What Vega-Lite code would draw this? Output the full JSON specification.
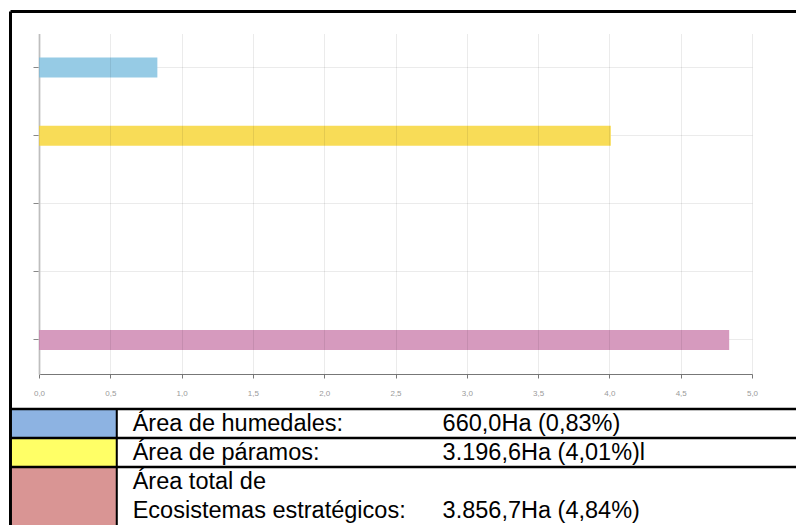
{
  "$schema": "https://vega.github.io/schema/vega-lite/v6.json",
  "width": 776,
  "height": 514,
  "autosize": {"type": "none"},
  "padding": {"left": 10, "top": 11, "right": 10, "bottom": 0},
  "background": "white",
  "config": {
    "view": {"stroke": null, "fill": null},
    "font": "Liberation Sans"
  },
  "datasets": {
    "barras": [
      {"categoria": "Área de humedales", "valor": 0.83},
      {"categoria": "Área de páramos", "valor": 4.01},
      {"categoria": "Área total de Ecosistemas estratégicos", "valor": 4.84}
    ],
    "tabla": [
      {"linea": "1", "tema": "humedales", "etiqueta": "Área de humedales:", "valor": "660,0Ha (0,83%)"},
      {"linea": "2", "tema": "páramos", "etiqueta": "Área de páramos:", "valor": "3.196,6Ha (4,01%)l"},
      {"linea": "3a", "tema": "total", "etiqueta": "Área total de", "valor": ""},
      {"linea": "3b", "tema": "total", "etiqueta": "Ecosistemas estratégicos:", "valor": "3.856,7Ha (4,84%)"}
    ]
  },
  "layer": [
    {
      "data": {"name": "barras"},
      "encoding": {
        "y": {
          "field": "categoria",
          "type": "nominal",
          "scale": {
            "domain": ["Área de humedales", "Área de páramos", "(sin dato 1)", "(sin dato 2)", "Área total de Ecosistemas estratégicos"],
            "range": [22.5, 363],
            "paddingInner": 0.707,
            "paddingOuter": 0.354
          },
          "axis": {
            "orient": "left",
            "offset": -29,
            "labels": false,
            "title": null,
            "ticks": true,
            "tickSize": 6,
            "tickColor": "#888888",
            "domainColor": "#cfcfcf",
            "domainWidth": 2,
            "grid": true,
            "gridColor": "#000000",
            "gridOpacity": 0.08,
            "bandPosition": 0.5
          }
        }
      },
      "layer": [
        {
          "mark": {"type": "bar"},
          "encoding": {
            "x": {
              "field": "valor",
              "type": "quantitative",
              "scale": {"domain": [0, 5], "range": [29, 742], "nice": false, "zero": true},
              "axis": {
                "orient": "bottom",
                "offset": -151,
                "values": [0, 0.5, 1, 1.5, 2, 2.5, 3, 3.5, 4, 4.5, 5],
                "format": ".1f",
                "labelExpr": "replace(datum.label, '.', ',')",
                "labelFontSize": 8,
                "labelColor": "#9a9a9a",
                "labelPadding": 11,
                "labelFlush": false,
                "tickSize": 4,
                "tickColor": "#777777",
                "domainColor": "#777777",
                "grid": false,
                "title": null
              }
            },
            "color": {
              "field": "categoria",
              "type": "nominal",
              "scale": {
                "domain": ["Área de humedales", "Área de páramos", "Área total de Ecosistemas estratégicos"],
                "range": ["#96cbe5", "#f8dc57", "#d69abe"]
              },
              "legend": null
            }
          }
        },
        {
          "mark": {"type": "bar", "opacity": 0},
          "encoding": {
            "x": {
              "field": "valor",
              "type": "quantitative",
              "scale": {"domain": [0, 5], "range": [29, 742], "nice": false, "zero": true},
              "axis": {
                "orient": "top",
                "offset": 0,
                "values": [0, 0.5, 1, 1.5, 2, 2.5, 3, 3.5, 4, 4.5, 5],
                "labels": false,
                "ticks": false,
                "domain": false,
                "grid": true,
                "gridColor": "#000000",
                "gridOpacity": 0.08,
                "title": null,
                "zindex": 1
              }
            }
          }
        }
      ],
      "resolve": {"axis": {"x": "independent"}}
    },
    {
      "data": {"name": "tabla"},
      "layer": [
        {
          "mark": {"type": "rect"},
          "encoding": {
            "x": {"datum": 0.25, "type": "quantitative", "scale": {"domain": [0, 100], "range": [0, 788], "nice": false, "zero": false}, "axis": null},
            "x2": {"datum": 13.5},
            "y": {
              "field": "linea",
              "type": "nominal",
              "scale": {"domain": ["1", "2", "3a", "3b"], "range": [398, 514], "paddingInner": 0, "paddingOuter": 0},
              "axis": null
            },
            "color": {
              "field": "tema",
              "type": "nominal",
              "scale": {"domain": ["humedales", "páramos", "total"], "range": ["#8db3e2", "#ffff66", "#d99594"]},
              "legend": null
            }
          }
        },
        {
          "mark": {"type": "rect", "color": "black"},
          "encoding": {
            "x": {"datum": 13.42, "type": "quantitative", "axis": null},
            "x2": {"datum": 13.68},
            "y": {"field": "linea", "type": "nominal", "axis": null}
          }
        },
        {
          "transform": [{"filter": "datum.linea != '3b'"}],
          "mark": {"type": "rule", "color": "black", "strokeWidth": 2.5},
          "encoding": {
            "x": {"datum": 0, "type": "quantitative", "axis": null},
            "x2": {"datum": 100},
            "y": {"field": "linea", "type": "nominal", "bandPosition": 0, "axis": null}
          }
        },
        {
          "mark": {"type": "text", "align": "left", "baseline": "middle", "fontSize": 23.5, "font": "Liberation Sans", "color": "black"},
          "encoding": {
            "x": {"datum": 15.57, "type": "quantitative", "axis": null},
            "y": {"field": "linea", "type": "nominal", "axis": null},
            "text": {"field": "etiqueta"}
          }
        },
        {
          "mark": {"type": "text", "align": "left", "baseline": "middle", "fontSize": 23.5, "font": "Liberation Sans", "color": "black"},
          "encoding": {
            "x": {"datum": 54.9, "type": "quantitative", "axis": null},
            "y": {"field": "linea", "type": "nominal", "axis": null},
            "text": {"field": "valor"}
          }
        }
      ]
    },
    {
      "data": {"values": [{}]},
      "mark": {"type": "point", "opacity": 0},
      "encoding": {
        "x": {
          "datum": 0,
          "type": "quantitative",
          "scale": {"domain": [0, 1], "range": [0, 790], "nice": false},
          "axis": {"orient": "top", "offset": 0, "domain": true, "domainColor": "black", "domainWidth": 3, "ticks": false, "labels": false, "grid": false, "title": null}
        },
        "y": {
          "datum": 0,
          "type": "quantitative",
          "scale": {"domain": [0, 1], "range": [514, 0], "nice": false},
          "axis": {"orient": "left", "offset": 0, "domain": true, "domainColor": "black", "domainWidth": 3, "ticks": false, "labels": false, "grid": false, "title": null}
        }
      }
    }
  ],
  "resolve": {"scale": {"x": "independent", "y": "independent", "color": "independent"}}
}
